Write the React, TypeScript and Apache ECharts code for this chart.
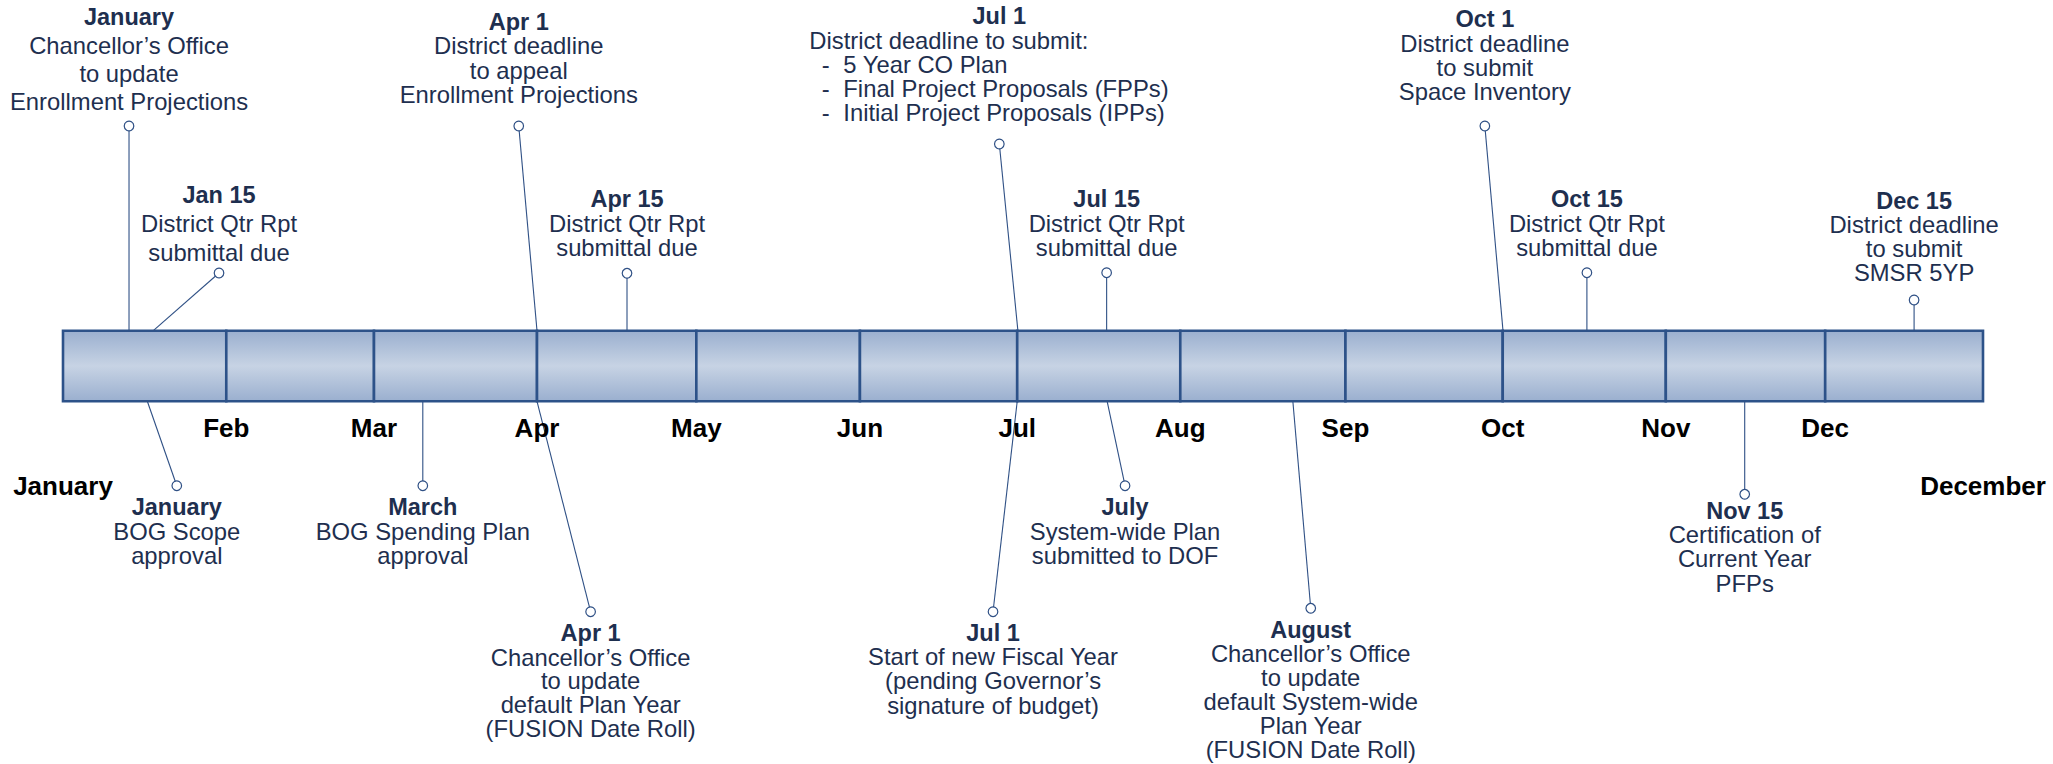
import React, { useEffect, useRef } from 'react';
import * as echarts from 'echarts';

// ---------- data ----------
// month boundaries on the day-of-year scale, as drawn in the reference
const monthStartDays = [0, 31.04, 59.12, 90.11, 120.4, 151.5, 181.4, 212.4, 243.8, 273.7, 304.7, 335.0, 365];
const boundaryLabels = ['January', 'Feb', 'Mar', 'Apr', 'May', 'Jun', 'Jul', 'Aug', 'Sep', 'Oct', 'Nov', 'Dec', 'December'];

const eventTitles = [
  'January', 'Jan 15', 'Apr 1', 'Apr 15', 'Jul 1', 'Jul 15', 'Oct 1', 'Oct 15', 'Dec 15',
  'January', 'March', 'Apr 1', 'Jul 1', 'July', 'August', 'Nov 15',
];
const eventBodies = [
  ['Chancellor’s Office', 'to update', 'Enrollment Projections'],
  ['District Qtr Rpt', 'submittal due'],
  ['District deadline', 'to appeal', 'Enrollment Projections'],
  ['District Qtr Rpt', 'submittal due'],
  ['District deadline to submit:', '- 5 Year CO Plan', '- Final Project Proposals (FPPs)', '- Initial Project Proposals (IPPs)'],
  ['District Qtr Rpt', 'submittal due'],
  ['District deadline', 'to submit', 'Space Inventory'],
  ['District Qtr Rpt', 'submittal due'],
  ['District deadline', 'to submit', 'SMSR 5YP'],
  ['BOG Scope', 'approval'],
  ['BOG Spending Plan', 'approval'],
  ['Chancellor’s Office', 'to update', 'default Plan Year', '(FUSION Date Roll)'],
  ['Start of new Fiscal Year', '(pending Governor’s', 'signature of budget)'],
  ['System-wide Plan', 'submitted to DOF'],
  ['Chancellor’s Office', 'to update', 'default System-wide', 'Plan Year', '(FUSION Date Roll)'],
  ['Certification of', 'Current Year', 'PFPs'],
];
const eventSides = ['top', 'top', 'top', 'top', 'top', 'top', 'top', 'top', 'top',
  'bottom', 'bottom', 'bottom', 'bottom', 'bottom', 'bottom', 'bottom'];
// day of year where the leader meets the bar, and where the marker sits
const anchorDays = [12.55, 17.17, 90.11, 107.22, 181.53, 198.4, 273.75, 289.7, 351.9, 16.03, 68.4, 90.11, 181.4, 198.5, 233.8, 319.7];
const markerDays = [12.55, 29.66, 86.64, 107.22, 178.0, 198.4, 270.3, 289.7, 351.9, 21.63, 68.4, 100.3, 176.8, 201.9, 237.2, 319.7];

// ---------- layout (page pixels on the vertical axis) ----------
const markerY = [126, 273, 126, 273.3, 144, 272.7, 126, 272.7, 300, 485.7, 485.7, 611.7, 611.7, 485.7, 608.3, 494.3];
const textTop = [16.7, 195, 21.7, 199.3, 16, 199, 19, 199.3, 201, 507.3, 507.3, 633.3, 632.7, 507.3, 630, 510.7];
const lineGap = [28.4, 28.8, 24.2, 24.2, 24.1, 24.1, 24, 24.2, 23.9, 23.9, 23.9, 23.75, 24.1, 23.9, 23.9, 24.1];
const listEvent = 4;
const BAR_TOP = 330.7;
const BAR_BOTTOM = 401.3;
const MONTH_LABEL_Y = 428.3;
const END_LABEL_Y = 486.2;

const FONT = '"Liberation Sans", Arial, Helvetica, sans-serif';
const TEXT_COLOR = '#1e2f4f';
const LEADER = '#2f5085';
const BORDER = '#2d5289';

function txt(x: number, y: number, text: string, opts: any) {
  return {
    type: 'text',
    x,
    y,
    style: {
      text,
      fill: opts.color,
      fontSize: opts.size,
      fontWeight: opts.weight,
      fontFamily: FONT,
      align: opts.align || 'center',
      verticalAlign: 'middle',
      textAlign: opts.align || 'center',
      textVerticalAlign: 'middle',
    },
  };
}

export default function App() {
  const ref = useRef<HTMLDivElement>(null);

  useEffect(() => {
    const chart = echarts.init(ref.current!, null, { renderer: 'svg' });

    const monthData = monthStartDays.slice(0, 12).map((d, i) => [d, monthStartDays[i + 1]]);
    const eventData = eventTitles.map((_, i) => [markerDays[i], markerY[i], anchorDays[i], i]);
    const labelData = boundaryLabels.map((_, i) => [monthStartDays[i], i]);

    const option: any = {
      animation: false,
      backgroundColor: '#ffffff',
      grid: { left: 63, right: 70, top: 0, bottom: 0, containLabel: false },
      xAxis: { type: 'value', min: 0, max: 365, show: false },
      yAxis: { type: 'value', min: 0, max: 764, inverse: true, show: false },
      series: [
        {
          type: 'custom',
          clip: false,
          silent: true,
          data: monthData,
          renderItem: (params: any, api: any) => {
            const p0 = api.coord([api.value(0), BAR_TOP]);
            const p1 = api.coord([api.value(1), BAR_BOTTOM]);
            return {
              type: 'rect',
              shape: { x: p0[0], y: p0[1], width: p1[0] - p0[0], height: p1[1] - p0[1] },
              style: {
                fill: new echarts.graphic.LinearGradient(0, 0, 0, 1, [
                  { offset: 0, color: '#9aafcf' },
                  { offset: 0.5, color: '#c7d3e4' },
                  { offset: 1, color: '#9aafcf' },
                ]),
                stroke: BORDER,
                lineWidth: 2.6,
              },
            };
          },
        },
        {
          type: 'custom',
          clip: false,
          silent: true,
          data: eventData,
          renderItem: (params: any, api: any) => {
            const i = api.value(3) as number;
            const m = api.coord([api.value(0), api.value(1)]);
            const a = api.coord([api.value(2), eventSides[i] === 'top' ? BAR_TOP : BAR_BOTTOM]);
            const children: any[] = [];
            children.push({
              type: 'line',
              shape: { x1: a[0], y1: a[1], x2: m[0], y2: m[1] },
              style: { stroke: LEADER, lineWidth: 1.1 },
            });
            children.push({
              type: 'circle',
              shape: { cx: m[0], cy: m[1], r: 4.8 },
              style: { fill: '#ffffff', stroke: LEADER, lineWidth: 1.2 },
            });
            const ty = api.coord([0, textTop[i]])[1];
            children.push(txt(m[0], ty, eventTitles[i], { color: TEXT_COLOR, size: 23.5, weight: 'bold' }));
            eventBodies[i].forEach((ln, k) => {
              const y = api.coord([0, textTop[i] + lineGap[i] * (k + 1)])[1];
              if (i === listEvent) {
                if (ln.startsWith('- ')) {
                  children.push(txt(m[0] - 177.5, y, '-', { color: TEXT_COLOR, size: 23.8, weight: 'normal', align: 'left' }));
                  children.push(txt(m[0] - 156, y, ln.slice(2), { color: TEXT_COLOR, size: 23.8, weight: 'normal', align: 'left' }));
                } else {
                  children.push(txt(m[0] - 190, y, ln, { color: TEXT_COLOR, size: 23.8, weight: 'normal', align: 'left' }));
                }
              } else {
                children.push(txt(m[0], y, ln, { color: TEXT_COLOR, size: 23.8, weight: 'normal' }));
              }
            });
            return { type: 'group', children };
          },
        },
        {
          type: 'custom',
          clip: false,
          silent: true,
          data: labelData,
          renderItem: (params: any, api: any) => {
            const i = api.value(1) as number;
            const isEnd = i === 0 || i === boundaryLabels.length - 1;
            const p = api.coord([api.value(0), isEnd ? END_LABEL_Y : MONTH_LABEL_Y]);
            return txt(p[0], p[1], boundaryLabels[i], { color: '#000000', size: 26, weight: 'bold' });
          },
        },
      ],
    };

    chart.setOption(option);
    return () => chart.dispose();
  }, []);

  return (
    <div
      ref={ref}
      style={{ position: 'fixed', left: 0, top: 0, width: 2053, height: 764, background: '#ffffff' }}
    />
  );
}
